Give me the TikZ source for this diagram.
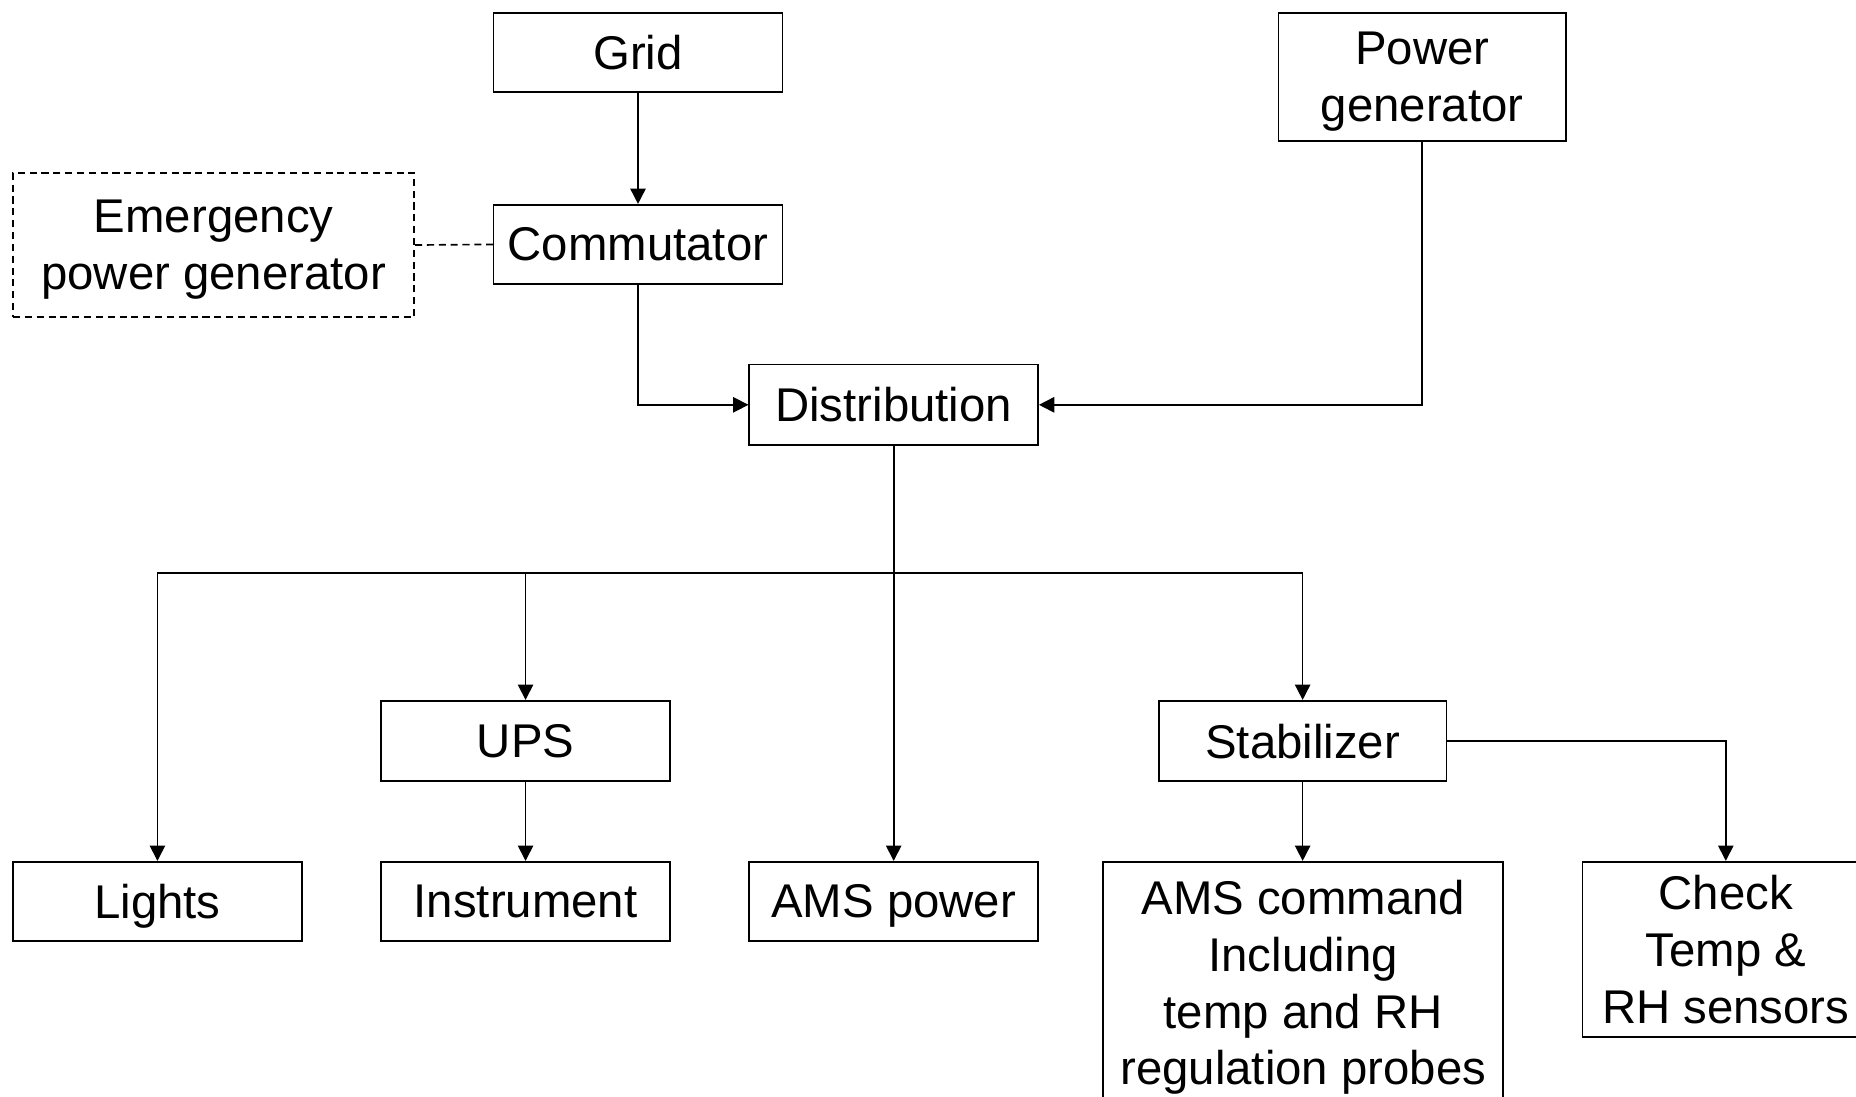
\documentclass[tikz,border=0pt]{standalone}
\usepackage{fontspec}
\setmainfont{Liberation Sans}
\usetikzlibrary{arrows.meta}
\begin{document}
\begin{tikzpicture}[x=1pt,y=-1pt,
  box/.style={draw, line width=1.4pt, inner sep=0pt, align=center, text depth=0pt,
    font=\fontsize{40}{48}\selectfont},
  dbox/.style={box, dash pattern=on 6pt off 4pt},
  arr/.style={line width=1.4pt, -{Triangle[length=13pt,width=13pt]}},
  dconn/.style={line width=1.4pt, dash pattern=on 6pt off 4pt}]
\useasboundingbox (0,0) rectangle (1568,926);
\node[box, minimum width=244pt, minimum height=67pt] (grid) at (539,44.5) {Grid};
\node[box, minimum width=243pt, minimum height=108pt] (pg) at (1201.5,65) {Power\\generator};
\node[dbox, minimum width=339pt, minimum height=122pt] (emerg) at (180.5,207) {Emergency\\power generator};
\node[box, minimum width=244pt, minimum height=67pt] (comm) at (539,206.5) {Commutator};
\node[box, minimum width=244pt, minimum height=68pt] (dist) at (755,342) {Distribution};
\node[box, minimum width=244pt, minimum height=68pt] (ups) at (444,626) {UPS};
\node[box, minimum width=243pt, minimum height=68pt] (stab) at (1100.5,626) {Stabilizer};
\node[box, minimum width=244pt, minimum height=67pt] (lights) at (133,761.5) {Lights};
\node[box, minimum width=244pt, minimum height=67pt] (instr) at (444,761.5) {Instrument};
\node[box, minimum width=244pt, minimum height=67pt] (amsp) at (755,761.5) {AMS power};
\node[box, minimum width=338pt, minimum height=204pt] (amsc) at (1101,830) {AMS command\\Including\\temp and RH\\regulation probes};
\node[box, minimum width=242pt, minimum height=148pt] (check) at (1458,802) {Check\\Temp \&\\RH sensors};
\coordinate (bus) at (755,484);
\draw[arr] (grid) -- (comm);
\draw[dconn] (emerg.east) -- (comm.west);
\draw[arr] (comm.south) |- (dist.west);
\draw[arr] (pg.south) |- (dist.east);
\draw[arr] (dist.south) -- (bus) -| (lights.north);
\draw[arr] (bus) -| (ups.north);
\draw[arr] (dist.south) -- (amsp.north);
\draw[arr] (bus) -| (stab.north);
\draw[arr] (ups) -- (instr);
\draw[arr] (stab.south) -- (stab.south |- amsc.north);
\draw[arr] (stab.east) -| (check.north);
\end{tikzpicture}
\end{document}
